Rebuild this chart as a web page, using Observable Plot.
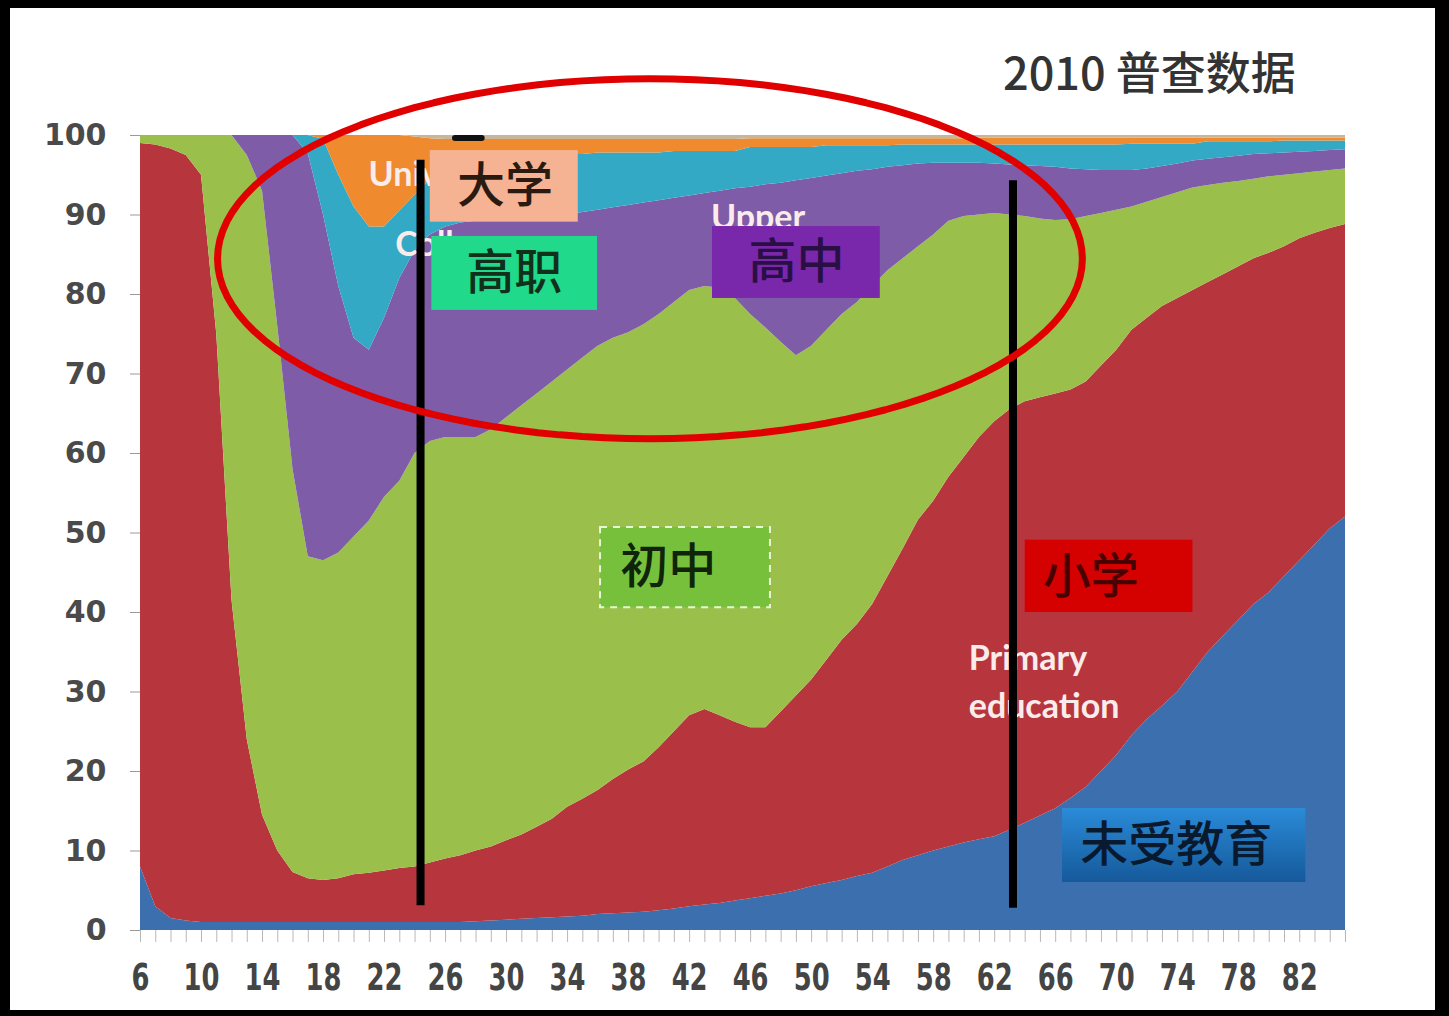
<!DOCTYPE html>
<html><head><meta charset="utf-8">
<script src="https://cdn.jsdelivr.net/npm/d3@7"></script>
<script src="https://cdn.jsdelivr.net/npm/@observablehq/plot@0.6"></script>
<style>
html,body{margin:0;padding:0;background:#000;width:1449px;height:1016px;overflow:hidden}
#frame{position:absolute;left:10px;top:8px;width:1425px;height:1002px;background:#fff}
#title{position:absolute;left:1003px;top:48px;font:500 45px/1 "Noto Sans CJK SC";color:#333;white-space:nowrap}
#chart{position:absolute;left:0;top:0}
</style></head><body>
<div id="frame"></div>
<div id="title">2010 普查数据</div>
<svg width="0" height="0" style="position:absolute">
  <defs>
    <linearGradient id="blueBox" x1="0" y1="0" x2="0" y2="1">
      <stop offset="0" stop-color="#2a8bd8"/>
      <stop offset="1" stop-color="#15599a"/>
    </linearGradient>
  </defs>
</svg>
<div id="chart"></div>
<script>
// ages (x categories)
const ages = [6,7,8,9,10,11,12,13,14,15,16,17,18,19,20,21,22,23,24,25,26,27,28,29,30,31,32,33,34,35,36,37,38,39,40,41,42,43,44,45,46,47,48,49,50,51,52,53,54,55,56,57,58,59,60,61,62,63,64,65,66,67,68,69,70,71,72,73,74,75,76,77,78,79,80,81,82,83,84,85];
const xTickLabels = [6,10,14,18,22,26,30,34,38,42,46,50,54,58,62,66,70,74,78,82];
const yTickLabels = [0,10,20,30,40,50,60,70,80,90,100];

// share (%) of each education level by age
const noEducation = [8,3,1.5,1.2,1,1,1,1,1,1, 1,1,1,1,1,1,1,1,1,1, 1,1,1.1,1.2,1.3,1.4,1.5,1.6,1.7,1.8, 2,2.1,2.2,2.3,2.5,2.7,3,3.2,3.4,3.7, 4,4.3,4.6,5,5.5,5.9,6.3,6.8,7.2,8, 8.8,9.4,10,10.5,11,11.4,11.8,12.6,13.5,14.4, 15.3,16.6,18,20,22,24.5,26.5,28.2,30,32.5, 35,37,39,41,42.5,44.5,46.5,48.5,50.5,52];
const primary = [91,95.8,96.8,96.3,94,74,40.5,23,13.5,9, 6.3,5.5,5.3,5.5,6,6.2,6.5,6.8,7,7.5, 8,8.4,8.9,9.3,10,10.6,11.5,12.4,13.8,14.7, 15.6,16.9,18,18.9,20.5,22.3,24,24.6,23.6,22.5, 21.5,21.2,22.9,24.5,26,28.1,30.2,31.7,33.8,36.5, 39.2,42.2,44,46.5,48.5,50.6,52.2,52.9,53,52.6, 52.2,51.4,51,51,51,51,50.5,50.3,49.5,48, 46.5,45.5,44.5,43.5,42.7,41.5,40.5,39.2,37.8,36.8];
const juniorMiddle = [1,1.2,1.7,2.5,5,25,58.5,73.5,78.5,66, 50.7,40.5,40.2,41,42.5,44.3,47,48.7,52,53, 53,52.6,52,52.5,53.2,54,54.5,55,55,55.5, 55.9,55.5,55,55,54.5,54,53.5,53.2,53.8,53.3, 52,50.3,46.5,42.8,42,41.5,41,40.5,40,38.5, 36.5,34.4,33.5,32.2,30.3,28,26.2,24.5,23.3,22.5, 21.8,21.4,20.8,19.2,17.6,15.5,14.6,13.7,13.3,12.9, 12.2,11.5,10.7,10,9.6,9,8.2,7.7,7.3,7];
const seniorHigh = [0,0,0,0,0,0,0,2.5,7,24, 42,50.7,43.5,33.5,25,21.5,22.5,25.5,25.5,26, 26.5,27,27.2,26.4,25,23.6,22.2,20.8,19.5,18.3, 17.1,16.4,16,15.3,14.3,13.1,11.9,11.7,12.2,13.8, 16,18,20,22,21.1,19.4,17.7,16.5,14.7,13, 11.7,10.4,9,7.3,6.7,6.5,6.2,6.3,6.4,6.6, 6.7,6.4,5.9,5.4,5,4.6,4.2,3.9,3.6,3.4, 3.3,3.2,3.2,3.1,2.9,2.8,2.7,2.6,2.5,2.4];
const vocational = [0,0,0,0,0,0,0,0,0,0, 0,2.3,9.5,14,16.5,15.5,11.5,8.5,7,7, 7.5,7.8,8,8,8,8,7.9,7.8,7.6,7.3, 7.2,6.9,6.6,6.3,6,5.9,5.6,5.3,5,4.7, 5,4.7,4.5,4.2,3.9,3.8,3.5,3.2,3,2.7, 2.6,2.4,2.3,2.3,2.3,2.3,2.4,2.5,2.6,2.7, 2.8,3,3.1,3.2,3.2,3.3,3.1,2.8,2.5,2.1, 2.2,2,1.8,1.6,1.5,1.5,1.4,1.3,1.2,1.1];
const university = [0,0,0,0,0,0,0,0,0,0, 0,0,0.5,5,9,11.5,11.5,9.5,7.3,5.1, 3.5,2.7,2.3,2.1,2,1.9,1.9,1.9,1.9,1.9, 1.7,1.7,1.7,1.7,1.7,1.5,1.5,1.5,1.5,1.5, 1.1,1.1,1.1,1.1,1.1,0.9,0.9,0.9,0.9,0.9, 0.8,0.8,0.8,0.8,0.8,0.9,0.9,0.9,0.9,0.9, 0.9,0.9,0.9,0.9,0.9,0.8,0.8,0.8,0.8,0.8, 0.5,0.5,0.5,0.5,0.5,0.4,0.4,0.4,0.4,0.4];
const graduate = [0,0,0,0,0,0,0,0,0,0, 0,0,0,0,0,0,0,0,0.2,0.4, 0.5,0.5,0.5,0.5,0.5,0.5,0.5,0.5,0.5,0.5, 0.5,0.5,0.5,0.5,0.5,0.5,0.5,0.5,0.5,0.5, 0.4,0.4,0.4,0.4,0.4,0.4,0.4,0.4,0.4,0.4, 0.4,0.4,0.4,0.4,0.4,0.3,0.3,0.3,0.3,0.3, 0.3,0.3,0.3,0.3,0.3,0.3,0.3,0.3,0.3,0.3, 0.3,0.3,0.3,0.3,0.3,0.3,0.3,0.3,0.3,0.3];

const levels = ["未受教育","小学","初中","高中","高职","大学","研究生"];
const levelColors = ["#3c6fae","#b7363e","#9bbf4b","#7e5ca7","#33a9c6","#ef8b2e","#c8b69a"];
const seriesList = [noEducation, primary, juniorMiddle, seniorHigh, vocational, university, graduate];

const table = seriesList.flatMap((vals, k) => vals.map((v, i) => ({age: ages[i], level: levels[k], share: v})));

// annotations (in data units)
const boxes = [
  {label:"大学", x1:25.0, x2:34.7, y1:89.1, y2:98.1, tx:29.9, ty:93.6, fill:"#f5b393", ink:"#2a1a10"},
  {label:"高职", x1:25.1, x2:35.96, y1:78.0, y2:87.3, tx:30.5, ty:82.6, fill:"#20d98b", ink:"#10301c"},
  {label:"高中", x1:43.5, x2:54.5, y1:79.5, y2:88.55, tx:49.0, ty:84.0, fill:"#7a28ab", ink:"#2a0f45"},
  {label:"初中", x1:36.16, x2:47.3, y1:40.6, y2:50.7, tx:40.6, ty:45.7, fill:"#76c03c", ink:"#10240a", dashed:true},
  {label:"小学", x1:64.0, x2:75.0, y1:40.0, y2:49.1, tx:68.3, ty:44.4, fill:"#d50000", ink:"#4a0000"},
  {label:"未受教育", x1:66.45, x2:82.4, y1:6.04, y2:15.35, tx:73.9, ty:10.7, fill:"url(#blueBox)", ink:"#0a1a2e"}
];
const whiteLabels = [
  {text:"University", x:20.95, y:95.0},
  {text:"College", x:22.7, y:86.2},
  {text:"Upper", x:43.4, y:89.6},
  {text:"Primary", x:60.3, y:34.1},
  {text:"education", x:60.3, y:28.05},
  {text:"No education", x:68.95, y:10.06}
];
const blackLines = [
  {x:24.36, y1:3.1, y2:96.9},
  {x:63.2, y1:2.8, y2:94.3}
];
const blackDash = [{x1:26.65, x2:28.4, y:99.7}];
const ellipse = {cx:39.4, cy:84.5, rx:28.35, ry:22.65};
const ellipsePts = d3.range(0, 361, 3).map(t => {
  const a = t * Math.PI / 180;
  return {x: ellipse.cx + ellipse.rx * Math.cos(a), y: ellipse.cy + ellipse.ry * Math.sin(a)};
});

const cjk = '"Noto Sans CJK SC", sans-serif';
const boxMarks = boxes.flatMap(b => [
  Plot.rect([b], {x1:"x1", x2:"x2", y1:"y1", y2:"y2", fill:b.fill,
    stroke: b.dashed ? "#e9f7d6" : null, strokeWidth: b.dashed ? 2 : 0, strokeDasharray: b.dashed ? "7,6" : null}),
  Plot.text([b], {x:"tx", y:"ty", text:"label", fill:b.ink, fontSize:48, fontWeight:500, fontFamily:cjk, textAnchor:"middle", lineAnchor:"middle"})
]);

const chart = Plot.plot({
  width: 1449, height: 1016,
  marginLeft: 140, marginRight: 104, marginTop: 135, marginBottom: 86,
  style: {background: "transparent", overflow: "visible"},
  x: {domain: [6, 85]},
  y: {domain: [0, 100]},
  color: {domain: levels, range: levelColors},
  marks: [
    Plot.areaY(table, {x: "age", y: "share", fill: "level", z: "level", curve: "linear"}),
    Plot.axisY({ticks: yTickLabels, tickSize: 10, tickPadding: 24, fontSize: 30, fontFamily: "DejaVu Sans", fontWeight: "bold", fill: "#4a4a4a", stroke: "#9a9a9a", label: null}),
    Plot.axisX({ticks: ages, tickSize: 12, tickFormat: () => "", stroke: "#b8b8b8", label: null}),
    Plot.axisX({ticks: xTickLabels, tickSize: 0, tickPadding: 33, fontSize: 38, fontFamily: "DejaVu Sans", fontWeight: "bold", fill: "#444", label: null}),
    Plot.text(whiteLabels, {x: "x", y: "y", text: "text", fill: "#fbecec", fontSize: 34, fontWeight: "bold", fontFamily: "Lato, sans-serif", textAnchor: "start", lineAnchor: "middle"}),
    ...boxMarks,
    Plot.ruleX(blackLines, {x: "x", y1: "y1", y2: "y2", stroke: "#000", strokeWidth: 8}),
    Plot.ruleY(blackDash, {x1: "x1", x2: "x2", y: "y", stroke: "#111", strokeWidth: 6, strokeLinecap: "round"}),
    Plot.line(ellipsePts, {x: "x", y: "y", stroke: "#e00000", strokeWidth: 7, curve: "linear"})
  ]
});
document.getElementById("chart").appendChild(chart);

// narrow the x tick labels (condensed look of the reference), scaling each around its own centre
chart.querySelectorAll('g[aria-label="x-axis tick label"] text').forEach(t => {
  if (!t.textContent.trim()) return;
  const r = t.getBoundingClientRect();
  const m = t.parentNode.getScreenCTM();
  const cx = (r.left + r.width / 2 - m.e) / m.a;
  const g = document.createElementNS("http://www.w3.org/2000/svg", "g");
  g.setAttribute("transform", `translate(${cx},0) scale(0.68,1) translate(${-cx},0)`);
  t.parentNode.insertBefore(g, t);
  g.appendChild(t);
});
</script>
</body></html>
